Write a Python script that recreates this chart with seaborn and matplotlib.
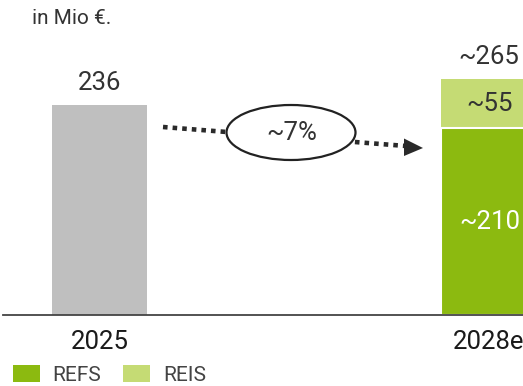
import matplotlib
matplotlib.use("Agg")
import matplotlib.pyplot as plt
from matplotlib.patches import Ellipse, Polygon, Patch
import seaborn as sns
import pandas as pd

# ---- data ----
years = ["2025", "2028e"]
value_2025 = [236]
refs_2028 = [210]
reis_2028 = [55]
value_labels = ["236", "~265"]
refs_label = "~210"
reis_label = "~55"
cagr_label = "~7%"
unit_label = "in Mio €."
legend_labels = ["REFS", "REIS"]

GRAY = "#BFBFBF"
DARK = "#8CBA10"
LIGHT = "#C5DB74"
TXT = "#333333"

sns.set_theme(style="white")
plt.rcParams["font.family"] = ["Roboto", "DejaVu Sans"]

W, H = 523, 386
fig = plt.figure(figsize=(W / 100, H / 100), dpi=100)
base_px = 315
ax = fig.add_axes([0, (H - base_px) / H, 1, base_px / H])

totals = [value_2025[0], refs_2028[0] + reis_2028[0]]
df_tot = pd.DataFrame({"year": years, "value": totals})
df_refs = pd.DataFrame({"year": [years[1]], "value": refs_2028})

bw = 95 / 389
sns.barplot(data=df_tot, x="year", y="value", hue="year", order=years,
            palette=[GRAY, LIGHT], width=bw, legend=False, ax=ax,
            saturation=1, linewidth=0)
sns.barplot(data=df_refs, x="year", y="value", order=years, color=DARK,
            width=bw, ax=ax, saturation=1, edgecolor="white", linewidth=1.5)

ax.set_xlim(-99.5 / 389, (523 - 99.5) / 389)
ax.set_ylim(0, base_px / 0.89)

for s in ["top", "right", "left"]:
    ax.spines[s].set_visible(False)
ax.spines["bottom"].set_color("#444444")
ax.spines["bottom"].set_linewidth(1.3)
ax.spines["bottom"].set_bounds((3 - 99.5) / 389, 2)
ax.set_yticks([])
ax.set_xlabel("")
ax.set_ylabel("")
ax.set_xticks(range(len(years)))
ax.set_xticklabels(years, fontsize=18.5, color="#1a1a1a", fontweight="normal")
ax.tick_params(axis="x", length=0, pad=11)

# value labels
for i, (v, lab) in enumerate(zip(totals, value_labels)):
    ax.annotate(lab, xy=(i, v), xytext=(0, 7), textcoords="offset points",
                ha="center", va="bottom", fontsize=18.5, color=TXT)
ax.text(1 + 1.5 / 389, refs_2028[0] / 2, refs_label, ha="center", va="center",
        fontsize=18.5, color="white")
ax.text(1 + 1.5 / 389, refs_2028[0] + reis_2028[0] / 2, reis_label,
        ha="center", va="center", fontsize=18.5, color=TXT)

# growth arrow (decoration, pixel-placed)
def af(px, py):
    return px / W, (base_px - py) / base_px

x0, y0 = 163, 127
x1, y1 = 406, 146
(ax0, ay0), (ax1, ay1) = af(x0, y0), af(x1, y1)
ax.plot([ax0, ax1], [ay0, ay1], transform=ax.transAxes, color="#2a2a2a",
        lw=3.3, linestyle=(0, (1.0, 1.1)), solid_capstyle="butt",
        dash_capstyle="butt", zorder=3)
head = [af(404, 138.5), af(423, 148), af(404, 156)]
ax.add_patch(Polygon(head, closed=True, transform=ax.transAxes,
                     facecolor="#2a2a2a", edgecolor="none", zorder=3))
cx, cy = af(291, 132.5)
ax.add_patch(Ellipse((cx, cy), 129 / W, 55 / base_px, transform=ax.transAxes,
                     facecolor="white", edgecolor="#222222", lw=1.6, zorder=4))
tx, ty = af(292, 133)
ax.text(tx, ty, cagr_label, transform=ax.transAxes, ha="center", va="center",
        fontsize=18.5, color=TXT, zorder=5)

fig.text(32 / W, 1 - 18 / H, unit_label, ha="left", va="center",
         fontsize=15, color=TXT)

handles = [Patch(facecolor=DARK, edgecolor="none"),
           Patch(facecolor=LIGHT, edgecolor="none")]
fig.legend(handles, legend_labels, loc="upper left",
           bbox_to_anchor=(13 / W, 1 - 365 / H), ncol=2, frameon=False,
           fontsize=15, handlelength=1.3, handleheight=0.85,
           handletextpad=0.6, columnspacing=1.05, borderpad=0,
           borderaxespad=0, labelcolor="#444444")

fig.savefig("out.png", dpi=100)
